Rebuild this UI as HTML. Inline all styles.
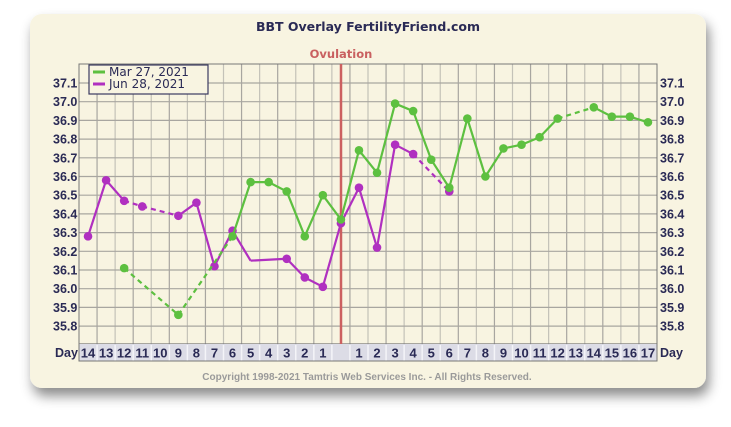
<!DOCTYPE html>
<html><head><meta charset="utf-8"><style>
body{margin:0;background:#fff;width:731px;height:422px;overflow:hidden}
</style></head><body>
<svg width="731" height="422" xmlns="http://www.w3.org/2000/svg" font-family="'DejaVu Sans','Liberation Sans',sans-serif">
<defs><filter id="sh" x="-10%" y="-10%" width="120%" height="130%"><feDropShadow dx="3" dy="8" stdDeviation="6" flood-color="#000" flood-opacity="0.45"/></filter></defs>
<rect x="30" y="14" width="676" height="374" rx="12" fill="#f8f4e1" filter="url(#sh)"/>
<text x="368" y="31" text-anchor="middle" font-size="12.5" font-weight="bold" fill="#2a2a55">BBT Overlay FertilityFriend.com</text>
<text x="341" y="58" text-anchor="middle" font-size="11.5" font-weight="bold" fill="#c96060">Ovulation</text>
<rect x="79" y="64" width="578" height="280" fill="#f8f4e1"/>
<g id="grid" stroke="#a8a6a0" stroke-width="1.2"></g>
<rect x="79" y="344" width="578" height="17" fill="#dcdce6"/>
<g id="dsep" stroke="#f4f4f8" stroke-width="1.5"></g>
<g id="days" font-family="'Liberation Sans',sans-serif" font-size="13" font-weight="bold" fill="#2a2a55" text-anchor="middle"></g>
<rect x="79" y="64" width="578" height="297" fill="none" stroke="#777" stroke-width="1"/>
<line x1="341" y1="64" x2="341" y2="344" stroke="#cc6060" stroke-width="2.5"/>
<g id="ylab" font-family="'Liberation Sans',sans-serif" font-size="12.5" font-weight="bold" fill="#2a2a55"></g>
<text x="55" y="357" font-family="'Liberation Sans',sans-serif" font-size="12.5" font-weight="bold" fill="#2a2a55">Day</text>
<text x="660" y="357" font-family="'Liberation Sans',sans-serif" font-size="12.5" font-weight="bold" fill="#2a2a55">Day</text>
<g id="series"></g>
<rect x="89" y="65" width="119" height="29" fill="#f8f4e1" stroke="#3a3a60" stroke-width="1.2"/>
<line x1="93" y1="72" x2="105" y2="72" stroke="#5dc040" stroke-width="3"/>
<line x1="93" y1="84" x2="105" y2="84" stroke="#b030c0" stroke-width="3"/>
<text x="109" y="76" font-size="12" fill="#2a2a55">Mar 27, 2021</text>
<text x="109" y="88" font-size="12" fill="#2a2a55">Jun 28, 2021</text>
<text x="367" y="380" text-anchor="middle" font-family="'Liberation Sans',sans-serif" font-size="10" font-weight="bold" fill="#9a9a9a">Copyright 1998-2021 Tamtris Web Services Inc. - All Rights Reserved.</text>
</svg>
<script>
const NS="http://www.w3.org/2000/svg";
function el(p,t,a,txt){const e=document.createElementNS(NS,t);for(const k in a)e.setAttribute(k,a[k]);if(txt!==undefined)e.textContent=txt;document.getElementById(p).appendChild(e);return e;}
const cw=578/32;
for(let i=1;i<32;i++){const x=79+i*cw;el('grid','line',{x1:x,y1:64,x2:x,y2:344,stroke:i%2?'#a8a6a0':'#c4c2b8'});el('dsep','line',{x1:x,y1:345,x2:x,y2:361});}
const Y=v=>83+(37.1-v)*187;
for(let k=0;k<14;k++){const v=37.1-k*0.1;const y=Y(v);el('grid','line',{x1:79,y1:y,x2:657,y2:y});
 el('ylab','text',{x:53,y:y+4.5},v.toFixed(1));el('ylab','text',{x:660,y:y+4.5},v.toFixed(1));}
el('grid','line',{x1:79,y1:344,x2:657,y2:344,stroke:'#777'});
const labels=[];for(let d=14;d>=1;d--)labels.push(d);labels.push('');for(let d=1;d<=17;d++)labels.push(d);
labels.forEach((l,i)=>el('days','text',{x:79+cw*(i+0.5),y:357.5},String(l)));
const X=c=>79+cw*(c+0.5);
const pre=d=>14-d, post=d=>14+d;
function seg(col,a,b,dash){el('series','line',{x1:X(a[0]),y1:Y(a[1]),x2:X(b[0]),y2:Y(b[1]),stroke:col,'stroke-width':2.2,'stroke-dasharray':dash?'5,4':'none'});}
function dot(col,p){el('series','circle',{cx:X(p[0]),cy:Y(p[1]),r:4.3,fill:col});}
const G='#5dc040',P='#b030c0';
const g=[[pre(12),36.11],[pre(9),35.86],[pre(6),36.28],[pre(5),36.57],[pre(4),36.57],[pre(3),36.52],[pre(2),36.28],[pre(1),36.50],[14,36.37],[post(1),36.74],[post(2),36.62],[post(3),36.99],[post(4),36.95],[post(5),36.69],[post(6),36.54],[post(7),36.91],[post(8),36.60],[post(9),36.75],[post(10),36.77],[post(11),36.81],[post(12),36.91],[post(14),36.97],[post(15),36.92],[post(16),36.92],[post(17),36.89]];
const gd=[1,1,0,0,0,0,0,0,0,0,0,0,0,0,0,0,0,0,0,0,1,0,0,0];
const p=[[pre(14),36.28],[pre(13),36.58],[pre(12),36.47],[pre(11),36.44],[pre(9),36.39],[pre(8),36.46],[pre(7),36.12],[pre(6),36.31],[pre(5),36.15,1],[pre(3),36.16],[pre(2),36.06],[pre(1),36.01],[14,36.35],[post(1),36.54],[post(2),36.22],[post(3),36.77],[post(4),36.72],[post(6),36.52]];
const pd=[0,0,1,1,0,0,0,0,0,0,0,0,0,0,0,0,1];
for(let i=0;i<p.length-1;i++)seg(P,p[i],p[i+1],pd[i]);
p.forEach(q=>{if(!q[2])dot(P,q)});
for(let i=0;i<g.length-1;i++)seg(G,g[i],g[i+1],gd[i]);
g.forEach(q=>dot(G,q));
</script>
</body></html>
